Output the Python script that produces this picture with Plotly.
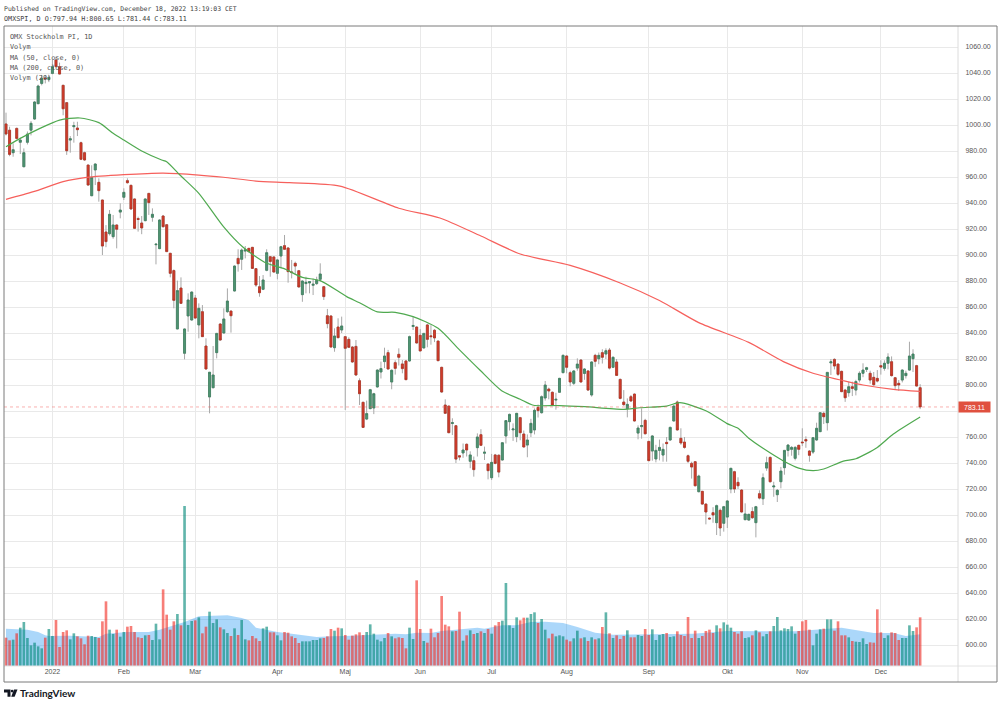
import plotly.graph_objects as go

# ---------- data ----------
opens = [1000.8,996,978.7,997.4,986.7,967.9,986.7,996,1004.6,1016.4,
1032,1036,1035,1039.7,1050,1044.9,1030.5,1017.2,988.4,998.7,
997.7,986.4,978.7,969.2,945.6,965.4,955.9,942.3,917.7,916.4,
914.1,923.1,933,944.4,957.2,953.6,943.1,928,924.6,926.4,
947.4,929,907.9,904.9,930,923.3,901.3,888,843.1,874.6,
824.4,853.1,850,866.9,846.2,856.4,830,790.8,797.9,824.9,
846.9,840,856.4,856.9,872.3,897.4,896.7,903,905.1,905.9,
889.5,875.6,873.6,888.2,898.7,898.5,885.9,899.2,907.2,905.4,
887,893.6,887.9,869.5,878,878.5,876.7,878,881.3,875.6,
853.3,853.1,828.7,844.6,842.3,837.2,835.1,829.2,829.7,803.3,
786.7,773.8,781.8,782.3,798.5,810,818,824.9,802.3,817.2,
823.6,816.2,818.5,818.5,845,844.6,838.2,828.5,846.2,837.8,
842.1,833.8,813.6,784.6,783.8,770.4,768.7,745.6,747.7,754.4,
741.3,741.8,751.8,761.8,747.5,739.2,728.7,746.2,746,742.3,
760.8,771.8,765.5,760.3,774.9,762.3,753.8,763.3,765.4,782.8,
778.7,790,796.9,794.4,788.4,794.4,809.5,822.3,809.5,801.3,
813,819.2,808.9,810.8,792.3,822.8,820.2,824.9,823.8,826.9,
813.6,817.7,804.3,786.9,781.8,791,793,763,768,772.8,
756.6,749.2,743.1,749.7,746.1,755.9,757.7,772.3,786.9,759,
756.1,745.6,739.7,741,717.9,718.2,708.4,697.6,701.8,694.1,
703.6,693.6,698.4,720,733.3,725.1,719.2,696.4,696.1,702.6,
694.1,716.4,712.5,736.1,744.3,721.6,715.6,725.6,736.4,749.7,
750.5,743.6,753.6,756.1,758,749.2,748.4,757.7,764.1,778.2,
771,817,819.7,816.1,810.5,796.1,794.1,798.7,796.1,803.8,
809,812,809,805.9,805.1,814.9,812.8,816.7,817.9,805.6,
801.3,803.8,807.2,811.5,820.2,814.9,797.94]
highs = [1009.5,998.7,985.9,998,990.2,982,995,1003,1018.5,1031,
1038.5,1038.5,1038,1050,1052.5,1048,1031,1017.5,991.5,1002.5,
1002.5,987.2,979.5,969.5,969,970.5,959,942.5,923,934.6,
930.8,923.5,939.7,951.3,959,954,943.5,929.5,930,943.5,
947.7,935.9,908.8,927.5,930.8,923.6,901.6,888.9,880.3,882.8,
843.5,870.5,872,869.2,862.8,861.5,835.9,810,830,840,
847.5,859,874.3,857,892,904.4,905,906.9,905.5,906,
889.7,883.8,884.6,904.4,899,898.8,897,907,915.4,906,
896.2,894.9,888.5,880.5,883.3,880,882,883.3,893.6,876,
858.5,853.5,843.6,851.3,852.6,837.5,836.7,830,834.6,805.1,
787,788,797,794,812,818,828.7,827,812,819,
828.2,819.2,819,838,852.5,845,843,840,847,846,
843,834,814,789,784,774.4,769,746,755,755,
749,745,762.8,766,752.6,739.5,747,747,746.5,756,
773,778,770.5,778.5,775.5,765,762,774,782,785,
792,803.1,798,795,794,805.5,823.5,823,811,811.5,
820.5,820,813,811.5,818.3,824,825,827.5,828.2,828.5,
822,820,805,796.1,789.7,792.3,793.5,769,782,774,
757,761.5,754,758,755,760,768,784.5,788,766.7,
760,746.5,741,741.5,731,718.5,709,698,706,708,
705,707,711.5,736.3,734,729,720,709,701,706,
707,719,732,744.9,745,725.6,720,737,750,754.5,
753,753,754,766.7,760.5,750,760,771,779,779.5,
810,820,820.5,816.5,811,797,802.5,802.6,804,810.5,
816.7,814,811,810,811.5,819,819,824.4,822,806,
803.8,812,811,833.3,827.5,815.5,800.65]
lows = [992,976,975.6,989,977.7,967.5,985,992,1004,1016,
1030.5,1032,1033,1039,1044.5,1039,1007.5,977,978.7,986.4,
991.5,973,972.5,953.5,945.3,953.8,941,900,906,915,
912.5,905.1,928.2,942.3,955,935,920,918,916,926,
930.8,925.6,892.8,904.5,921,902.5,882.8,859,843,862.5,
819.7,841,849.5,851,835.9,837,812,778.2,797.5,820.5,
834,839.5,855.5,840.3,872,887.2,888.5,897.4,902,889.5,
875.5,867.9,873,887.5,883.3,886.5,881.3,889.7,904,878.7,
882,884.6,875,864,870.5,870.5,869.2,877,879.5,865.4,
843.6,829,825.6,836,840,780.8,828.5,817,807,784.6,
767,773,781.5,777.6,798,805,813,812,796.7,808,
815,809,803.8,818,842.3,832,825.9,828,829,831,
833,818.5,794,778,763,761.5,740,742,744,745,
736,729.5,745,753,742.3,727.4,726.9,739,729,742,
755,765,757,756,757.5,752,744.4,760,762,775,
778,788,789,784,781,794,809,809,799,800,
811,802,804,795.5,791,814,816,816.5,820,812,
813,807,789,784,775.1,787,772,758.2,758.7,762,
741.5,741.8,740.5,742,741,741,757,772,765,754,
751,740,728,722,717.5,708,692.8,696.5,694,684.6,
683.8,687.2,690,716.7,717,720,702,696,695.5,697,
682.8,712,707.7,734,725,714,710,720.5,731,745,
745.6,742,746,753,751.7,741,747,757,764,770,
765,807.7,812,807,794.5,787,791,791.5,792,802,
806,810,801,799.5,802,808,811,812,806.5,797,
795.5,802,805,811,810,799,781.44]
closes = [993.1,977.4,981,989.7,988.4,978.7,993,1001.3,1017.7,1030,
1036,1035.6,1036.6,1044.9,1044.9,1039.2,1012.5,980.2,989.4,999.5,
996.4,973.6,973.1,953.8,959.7,970,949.5,906.9,910.3,931.3,
923.1,919.8,934.6,948.2,955.6,935.4,920.5,927.4,920.8,943.1,
940.3,931.3,908.3,926.9,921.8,902.6,885.9,865.1,872.6,862.8,
843.1,865.4,871.5,851.5,859,837.2,812.3,809.8,807.7,839.7,
834.6,850.8,864.6,853.3,891.5,893.3,903.8,904,902.6,889.7,
876.9,871,880.8,901.8,895,886.9,896.2,906.4,904.4,887.2,
886.5,891.5,875.4,880,879,879.5,877.5,880.6,885.4,868,
847.2,829.2,837.7,836.4,845.4,828.2,829,817.7,807.7,793.3,
767.4,778,796.4,793.3,811.5,812.6,822.3,812.3,811.3,812.8,
821.3,812.6,804.1,837.2,845.8,832.3,826.2,839.7,835.1,837.2,
836.2,818.7,794.6,778.2,763.3,771,743,744.6,750,750,
746.2,734.9,760,753.6,748.3,734.1,740.5,739.7,733,755.6,
772.6,777.4,766.2,778.2,763.3,752.3,757.7,770.5,780.5,780.3,
791,800,795.4,784.6,789,805.1,822.8,813.6,802.3,810.8,
816.1,802.3,812.3,796.1,817.7,818.2,822.8,821.3,826.4,813,
821.3,807.4,789.7,784.9,785.1,787.7,772.3,766.9,768.8,762.5,
741.8,760.8,749.7,752,750.5,754.9,767.4,783.8,765.4,755.4,
752,741.3,736.9,722.5,730,708.4,702.3,697,700,707.2,
690,706.4,710.8,735.9,720,722.5,702.3,700.8,700.5,697.9,
706.4,713,728.7,740.2,725.6,722.3,719,733.8,749.7,753.8,
752,752,750.5,755.6,757,745.9,759.5,766.7,778.7,775.6,
809.7,817.8,814.6,808.2,794.9,790.2,798.7,797.4,802.6,809,
811.5,813.3,803.8,800.2,803,813.8,816.7,821.5,807.2,799.5,
800,811.5,809,822.3,823.8,799.2,783.11]
volume = [85,77,79,98,115,132,84,62,70,59,
53,85,111,90,138,57,102,107,80,98,
89,83,65,91,90,87,84,134,194,109,
96,109,88,102,118,120,102,86,84,92,
93,78,127,80,230,154,109,134,156,122,
480,123,135,137,146,98,118,163,129,140,
116,110,99,90,113,93,138,80,77,90,
83,75,113,118,101,101,92,77,102,100,
89,84,69,74,74,74,78,78,83,84,
89,111,106,115,
113,93,79,91,95,101,93,102,125,97,
79,74,84,99,89,83,86,84,53,115,
81,257,111,75,70,112,86,99,210,124,
119,104,105,163,76,92,107,96,99,104,
99,111,97,122,132,136,249,122,114,146,
137,145,145,156,161,129,141,109,83,97,
89,92,89,79,74,83,106,83,86,75,
86,80,83,117,161,98,84,92,81,90,
107,86,86,93,90,111,93,110,78,93,
96,99,
87,89,104,93,90,147,84,106,84,90,
105,109,99,122,113,131,124,115,102,97,
104,84,86,92,107,101,89,96,104,120,
147,107,113,111,119,97,105,134,138,109,
62,97,110,112,140,140,106,134,92,92,
86,75,73,72,83,66,71,70,170,101,
84,92,101,99,78,84,84,122,105,116,146]

ma50_idx = [0,4,9.5,15,20.7,26,30,33,38,43.6,45,48.7,54,60.9,66.4,73,77.7,83,88,95.4,99,104,109,114,121,127,132.7,138.8,144,147.7,155,162,172.8,177.5,185,188.7,196,201.8,205,208,212,217.6,222,226,229,234.5,238,244,248.5,256]
ma50_val = [983.3,989.7,997.4,1003.8,1005.4,1001.8,993.6,988.4,980,973.1,971.8,961.5,947.4,921.8,905.9,893.6,889.7,882.8,880.3,868,863.3,856.2,855.9,852.6,843.6,827,811.5,795.6,789,784.4,784.2,783.3,781.3,782.5,783.8,786.4,780.2,770.5,766.7,759,751.3,741.8,736.1,734.1,735.4,741.5,743.3,752,762.3,775.4]
ma200_idx = [0,7.7,16,22.6,33,44,54,60.9,70,79.4,93.5,110,121.5,133,144,158,172,183,194,208,217.7,226,234.5,240,248.5,256]
ma200_val = [942.8,948.7,956.4,959.7,961.8,963,961.5,959.8,956.9,955.6,953,936,928.5,914.6,900.8,892,878.5,865,848,832.8,818,809,803.3,800,796.7,795.1]
volma_idx = [0,6,9,11,12,18,26,28,34,40,43,45,50,54,62,66,68,70,76,80,87,91,95,109,112,115,119,122,128,132,134,139,143,147,151,156,160,165,170,184,192.5,202,211,221,234,243,248.5,252,256]
volma_val = [112,109,102,92,90,91,87,97,102,102,109,115,132,149,152,144,137,115,102,97,87,89,90,97,95,100,99,105,111,115,112,122,122,132,133,129,117,100,94,97,97,105,104,104,115,99,99,90,95]

month_idx = [13,33,53,76,95,116,136,157,180,202,223,245]
month_labels = ["2022","Feb","Mar","Apr","Maj","Jun","Jul","Aug","Sep","Okt","Nov","Dec"]
price_ticks = list(range(600, 1061, 20))
legend_lines = ["OMX Stockholm PI, 1D","Volym","MA (50, close, 0)","MA (200, close, 0)","Volym (20)"]

assert len(opens)==len(highs)==len(lows)==len(closes)==len(volume)==257

# ---------- helpers ----------
W, H = 1000, 704
px = lambda v: v / W
py = lambda v: 1 - v / H
idx = list(range(len(opens)))
MONO = "DejaVu Sans Mono"
SANS = "Liberation Sans"
UP = "#4f9472"; UP_EDGE = "#3b7f5f"
DOWN = "#d23c2c"; DOWN_EDGE = "#b3301f"
WICK = "#a8a8a8"

fig = go.Figure()
# volume average area, below the bars
fig.add_trace(go.Scatter(x=volma_idx, y=volma_val, yaxis="y2", mode="lines", fill="tozeroy",
                         line=dict(width=0, color="rgba(33,150,243,0.38)"),
                         fillcolor="rgba(33,150,243,0.38)", showlegend=False))
fig.add_trace(go.Bar(
    x=idx, y=volume, yaxis="y3", showlegend=False,
    marker=dict(color=["rgba(0,135,120,0.62)" if c >= o else "rgba(242,40,30,0.6)"
                       for o, c in zip(opens, closes)], line_width=0),
))
# wicks
fig.add_trace(go.Candlestick(x=idx, open=opens, high=highs, low=lows, close=closes, showlegend=False,
    increasing=dict(line=dict(color=WICK, width=1), fillcolor=WICK),
    decreasing=dict(line=dict(color=WICK, width=1), fillcolor=WICK)))
# bodies
fig.add_trace(go.Candlestick(x=idx, open=opens, close=closes,
    high=[max(o, c) for o, c in zip(opens, closes)],
    low=[min(o, c) for o, c in zip(opens, closes)], showlegend=False,
    increasing=dict(line=dict(color=UP_EDGE, width=0.7), fillcolor=UP),
    decreasing=dict(line=dict(color=DOWN_EDGE, width=0.7), fillcolor=DOWN)))
fig.add_trace(go.Scatter(x=ma200_idx, y=ma200_val, mode="lines", showlegend=False,
                         line=dict(color="#f6605c", width=1.2, shape="spline", smoothing=0.7)))
fig.add_trace(go.Scatter(x=ma50_idx, y=ma50_val, mode="lines", showlegend=False,
                         line=dict(color="#4fa94f", width=1.2, shape="spline", smoothing=0.7)))

shapes = [
    dict(type="line", xref="paper", yref="y", x0=px(4), x1=px(958), y0=closes[-1], y1=closes[-1],
         line=dict(color="rgba(239,83,80,0.45)", width=1, dash="dot")),
    dict(type="line", xref="paper", yref="paper", x0=px(4), x1=px(997), y0=py(666), y1=py(666),
         line=dict(color="#e4e4e4", width=1)),
    dict(type="line", xref="paper", yref="paper", x0=px(958), x1=px(958), y0=py(26), y1=py(682),
         line=dict(color="#dcdcdc", width=1)),
    dict(type="rect", xref="paper", yref="paper", x0=px(4), x1=px(997), y0=py(682), y1=py(26),
         line=dict(color="#7a7a7a", width=1)),
    # logo
    dict(type="path", xref="paper", yref="paper", fillcolor="#131722", line_width=0,
         path=f"M{px(4)},{py(689.5)} H{px(10.5)} V{py(696.8)} H{px(7.5)} V{py(692.5)} H{px(4)} Z"),
    dict(type="circle", xref="paper", yref="paper", fillcolor="#131722", line_width=0,
         x0=px(10.8), x1=px(13.4), y0=py(692.4), y1=py(689.8)),
    dict(type="path", xref="paper", yref="paper", fillcolor="#131722", line_width=0,
         path=f"M{px(14)},{py(689.5)} H{px(17.5)} L{px(14.6)},{py(696.8)} H{px(11.2)} Z"),
]

def note(text, x, y, size=6.5, color="#444444", family=MONO, **kw):
    return dict(text=text, xref="paper", yref="paper", x=px(x), y=py(y), xanchor="left", yanchor="middle",
                showarrow=False, font=dict(family=family, size=size, color=color), **kw)

annotations = [
    note("Published on TradingView.com, December 18, 2022 13:19:03 CET", 2, 9, size=6.45),
    note("OMXSPI, D O:797.94 H:800.65 L:781.44 C:783.11", 2, 19, size=6.75),
    note("<b>TradingView</b>", 18, 693, size=10, color="#131722", family="Lato"),
]
for line, y in zip(legend_lines, [37, 47, 58, 68, 78]):
    annotations.append(note(line, 7.5, y, size=6.85, color="#555555"))
annotations.append(dict(text=f"{closes[-1]:.2f}", xref="paper", yref="y", x=px(958), y=closes[-1],
                        xanchor="left", yanchor="middle", showarrow=False, width=31, height=10,
                        bgcolor="#e0503f", borderpad=0, align="center",
                        font=dict(family=SANS, size=7, color="#ffffff")))

# The last-price tag covers the 780 label in the reference, so that tick keeps only its gridline.
price_text = ["" if t == 780 else f"{t:.2f}" for t in price_ticks]

fig.update_layout(
    width=W, height=H, margin=dict(l=0, r=0, t=0, b=0), autosize=False,
    paper_bgcolor="white", plot_bgcolor="white", showlegend=False,
    barmode="overlay", bargap=0.26, boxgap=0.2,
    shapes=shapes, annotations=annotations,
    xaxis=dict(domain=[px(4), px(958)], range=[-0.56, 266.6], tickmode="array", tickvals=month_idx,
               ticktext=month_labels, showgrid=True, gridcolor="#e9e9e9", gridwidth=1, zeroline=False,
               rangeslider=dict(visible=False), ticks="", showline=False,
               tickfont=dict(family=SANS, size=7, color="#555555")),
    yaxis=dict(domain=[py(666), py(26)], range=[583.85, 1076.15], side="right", tickmode="array",
               tickvals=price_ticks, ticktext=price_text, showgrid=True, gridcolor="#e9e9e9", gridwidth=1,
               zeroline=False, ticks="outside", ticklen=5, tickcolor="rgba(255,255,255,0)",
               tickfont=dict(family=SANS, size=7, color="#555555")),
    yaxis2=dict(domain=[py(666), py(26)], range=[0, 1920], overlaying="y", side="left", visible=False),
    yaxis3=dict(domain=[py(666), py(26)], range=[0, 1920], overlaying="y", side="left", visible=False),
)

fig.write_html("out.html", config=dict(displayModeBar=False),
               post_script="document.body.style.margin='0';document.documentElement.style.overflow='hidden';")
